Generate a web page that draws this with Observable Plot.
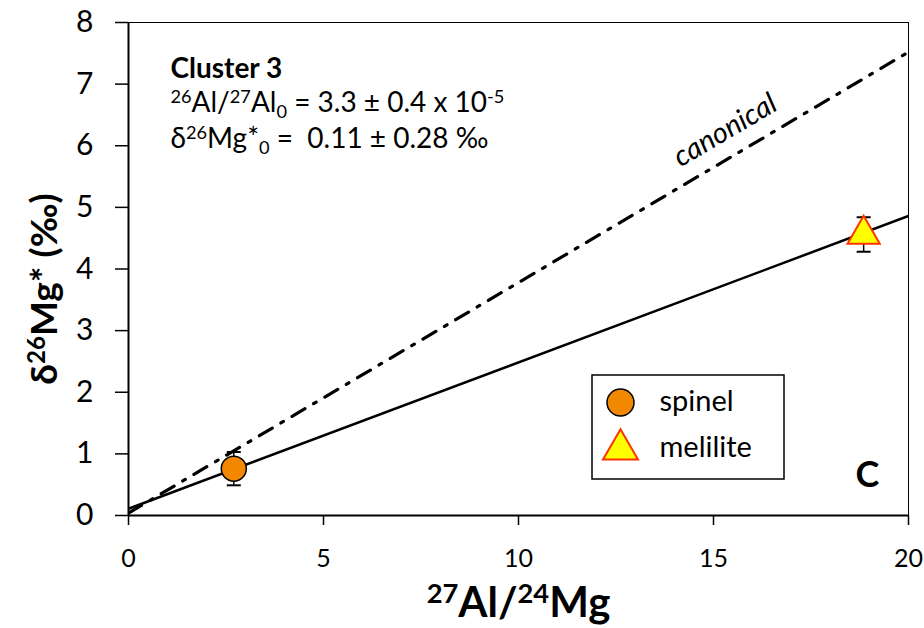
<!DOCTYPE html>
<html><head><meta charset="utf-8">
<script src="https://cdn.jsdelivr.net/npm/d3@7"></script>
<script src="https://cdn.jsdelivr.net/npm/@observablehq/plot@0.6"></script>
<style>
body{margin:0;background:#fff;}
#chart svg{font-family:Lato, "Open Sans", sans-serif;}
</style>
</head><body><div id="chart"></div>
<script>
// ---- data ----
const xTicks = [0, 5, 10, 15, 20];
const yTicks = [0, 1, 2, 3, 4, 5, 6, 7, 8];
const samples = ["spinel", "melilite"];
const alMg = [2.7, 18.85];          // 27Al/24Mg
const dMg = [0.76, 4.56];           // δ26Mg* (‰)
const dMgErr = [0.27, 0.28];        // 2σ
const fitX = [0, 20];
const fitY = [0.11, 4.86];          // isochron 3.3e-5, intercept 0.11
const canonX = [0, 20];
const canonY = [0.04, 7.52];        // canonical 5.2e-5
const annotLines = [
  "Cluster 3",
  "^{26}Al/^{27}Al_{0} = 3.3 ± 0.4 x 10^{-5}",
  "δ^{26}Mg*_{0} =  0.11 ± 0.28 ‰"
];
const xTitle = "^{27}Al/^{24}Mg";
const yTitle = "δ^{26}Mg* (‰)";
const panelLabel = "C";
const canonLabel = "canonical";

const pts = samples.map((s, i) => ({sample: s, x: alMg[i], y: dMg[i], lo: dMg[i] - dMgErr[i], hi: dMg[i] + dMgErr[i]}));
const fit = fitX.map((x, i) => ({x, y: fitY[i]}));
const canon = canonX.map((x, i) => ({x, y: canonY[i]}));

const capSymbol = {draw(ctx, size) { const w = Math.sqrt(size / Math.PI); ctx.moveTo(-w, 0); ctx.lineTo(w, 0); }};
const styles = {
  spinel: {symbol: "circle", fill: "#f28700", stroke: "#000", r: 12.5, sw: 1.5},
  melilite: {symbol: "triangle", fill: "#ffff00", stroke: "#ff3300", r: 12, sw: 2}
};

const plot = Plot.plot({
  width: 924, height: 628,
  marginLeft: 128, marginRight: 16, marginTop: 22, marginBottom: 113,
  x: {domain: [0, 20], ticks: xTicks, label: null},
  y: {domain: [0, 8], ticks: yTicks, label: null},
  style: {fontFamily: "Lato, 'Open Sans', sans-serif", background: "#fff", color: "#000"},
  marks: [
    Plot.ruleY([8], {stroke: "#000", strokeWidth: 1}),
    Plot.ruleX([20], {stroke: "#000", strokeWidth: 1}),
    Plot.axisY({ticks: yTicks, tickSize: 13, tickPadding: 22, fontSize: 30, strokeWidth: 1.5, label: null}),
    Plot.axisX({ticks: xTicks, tickSize: 10, tickPadding: 24, fontSize: 25, strokeWidth: 1.5, label: null}),
    Plot.line(canon, {x: "x", y: "y", stroke: "#000", strokeWidth: 3.2, strokeDasharray: "15,10,3,10", clip: true}),
    Plot.line(fit, {x: "x", y: "y", stroke: "#000", strokeWidth: 2.5, clip: true}),
    Plot.ruleX([0], {stroke: "#000", strokeWidth: 2}),
    Plot.ruleY([0], {stroke: "#000", strokeWidth: 2}),
    Plot.ruleX(pts, {x: "x", y1: "lo", y2: "hi", stroke: "#000", strokeWidth: 1.5}),
    Plot.dot(pts, {x: "x", y: "lo", symbol: capSymbol, r: 7, stroke: "#000", strokeWidth: 2, fill: "none"}),
    Plot.dot(pts, {x: "x", y: "hi", symbol: capSymbol, r: 7, stroke: "#000", strokeWidth: 2, fill: "none"}),
    ...samples.map((s, i) => Plot.dot([pts[i]], {x: "x", y: "y", symbol: styles[s].symbol, r: styles[s].r, fill: styles[s].fill, stroke: styles[s].stroke, strokeWidth: styles[s].sw})),
    // canonical label
    Plot.text([canonLabel], {x: () => 15.3, y: () => 6.25, text: d => d, rotate: -30.6, fontSize: 29, fontStyle: "italic", textAnchor: "middle", lineAnchor: "middle"}),
    // annotation
    Plot.text([annotLines[0]], {frameAnchor: "top-left", dx: 42, dy: 47, text: d => d, fontSize: 28, fontWeight: "bold", textAnchor: "start", lineAnchor: "middle"}),
    Plot.text([annotLines[1]], {frameAnchor: "top-left", dx: 42, dy: 81, text: d => d, fontSize: 28, textAnchor: "start", lineAnchor: "middle"}),
    Plot.text([annotLines[2]], {frameAnchor: "top-left", dx: 42, dy: 117, text: d => d, fontSize: 28, textAnchor: "start", lineAnchor: "middle"}),
    // panel label
    Plot.text([panelLabel], {frameAnchor: "bottom-right", dx: -41, dy: -40, text: d => d, fontSize: 36, fontWeight: "bold", textAnchor: "middle", lineAnchor: "middle"}),
    // axis titles
    Plot.text([xTitle], {x: () => 10, y: () => 0, dy: 88, text: d => d, fontSize: 42, fontWeight: "bold", textAnchor: "middle", lineAnchor: "middle"}),
    Plot.text([yTitle], {x: () => 0, y: () => 4, dx: -83, dy: 20, rotate: -90, text: d => d, fontSize: 37, fontWeight: "bold", textAnchor: "middle", lineAnchor: "middle"}),
    // legend
    ...samples.map((s, i) => Plot.dot([s], {frameAnchor: "bottom-right", dx: -288, dy: i === 0 ? -113 : -66, symbol: styles[s].symbol, r: styles[s].r + 1, fill: styles[s].fill, stroke: styles[s].stroke, strokeWidth: styles[s].sw})),
    ...samples.map((s, i) => Plot.text([s], {frameAnchor: "bottom-right", dx: -249, dy: i === 0 ? -114 : -68, text: d => d, fontSize: 29, textAnchor: "start", lineAnchor: "middle"}))
  ]
});

document.getElementById("chart").appendChild(plot);

// legend box
const svg = d3.select(plot);
svg.insert("rect", ":scope > g:nth-last-child(4)")
  .attr("x", 592).attr("y", 375).attr("width", 192).attr("height", 104)
  .attr("fill", "none").attr("stroke", "#000").attr("stroke-width", 1.5);

// rich text: ^{sup} and _{sub}
svg.selectAll("text").each(function() {
  const s = this.textContent;
  if (!/[\^_]\{/.test(s)) return;
  const fs = parseFloat(getComputedStyle(this).fontSize);
  const middle = getComputedStyle(this).textAnchor === "middle";
  const sel = d3.select(this);
  sel.text(null);
  const re = /(\^|_)\{([^}]*)\}|([^\^_]+)/g;
  let m, off = 0;
  while ((m = re.exec(s))) {
    let target = 0, txt, size = null;
    if (m[1] === "^") { target = -0.34 * fs; txt = m[2]; size = 0.65 * fs; }
    else if (m[1] === "_") { target = 0.2 * fs; txt = m[2]; size = 0.65 * fs; }
    else { txt = m[3]; }
    const t = sel.append("tspan").attr("dy", target - off).text(txt);
    if (size) t.attr("font-size", size);
    off = target;
  }
  if (middle) {
    const ax = parseFloat(this.getAttribute("x")) || 0;
    this.setAttribute("text-anchor", "start");
    this.style.textAnchor = "start";
    const len = this.getComputedTextLength();
    this.setAttribute("x", ax - len / 2);
  }
});
</script>
</body></html>
